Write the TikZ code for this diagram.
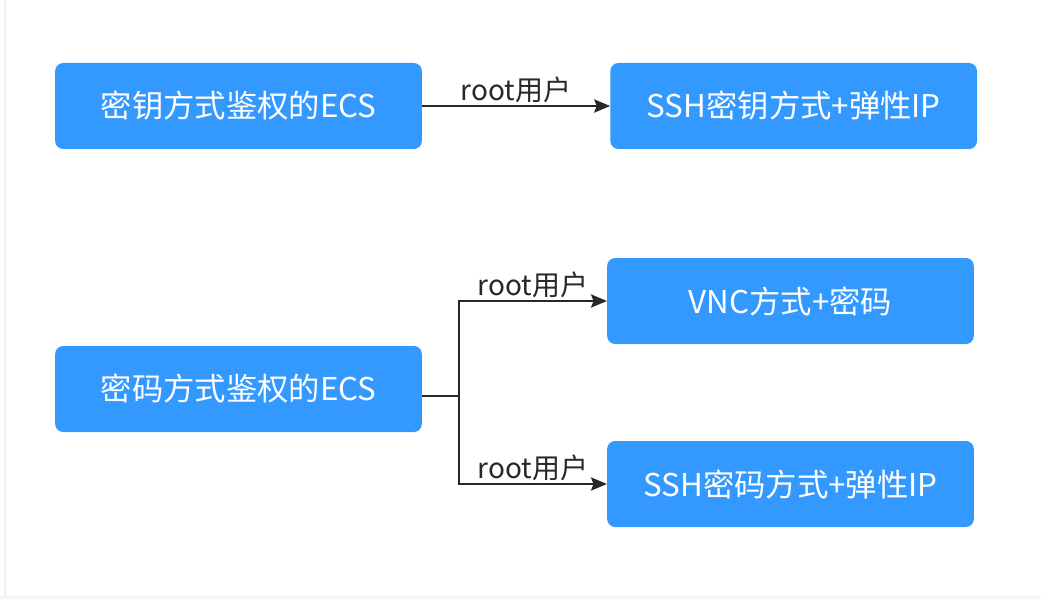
\documentclass[tikz,border=0pt]{standalone}
\usepackage{fontspec}
\setmainfont{Noto Sans CJK SC}
\usetikzlibrary{shapes, arrows.meta, positioning}
\definecolor{boxblue}{RGB}{51,153,255}
\definecolor{linegray}{RGB}{40,40,40}

\begin{document}
\begin{tikzpicture}[x=0.75pt,y=-0.75pt,
	ecsbox/.style={rectangle, rounded corners=6pt, fill=boxblue, text=white, minimum width=275pt, minimum height=64.5pt, inner sep=0pt, font=\fontsize{23.5}{27}\selectfont},
	link/.style={draw=linegray, line width=1.2pt, -{Stealth[length=12pt, width=10pt, inset=2pt]}},
	lbl/.style={text=linegray, inner sep=2pt, font=\fontsize{21}{25}\selectfont}]
		\useasboundingbox (0,0) rectangle (1041,599);
		\fill[white] (0,0) rectangle (1041,599); % 背景
		\fill[black!4] (0,596) rectangle (1041,599);
		\draw[black!6, line width=0.8pt] (5,0) -- (5,596);
		
		% 密钥方式
		\node[ecsbox] (keyecs) at (238.5,106) {密钥方式鉴权的ECS};
		\node[ecsbox, right=141pt of keyecs] (sshkey) {SSH密钥方式+弹性IP};
		\draw[link] (keyecs) -- node[lbl, above] {root用户} (sshkey);
		
		% 密码方式
		\node[ecsbox] (pwdecs) at (238.5,389) {密码方式鉴权的ECS};
		\node[ecsbox] (vncpwd) at (790.5,301) {VNC方式+密码};
		\node[ecsbox] (sshpwd) at (790.5,484) {SSH密码方式+弹性IP};
		\coordinate (fork) at ([xshift=27.75pt, yshift=-5.25pt]pwdecs.east);
		\draw[linegray, line width=1.2pt] ([yshift=-5.25pt]pwdecs.east) -- (fork);
		\draw[link] (fork) |- node[lbl, above, pos=0.75] {root用户} (vncpwd);
		\draw[link] (fork) |- node[lbl, above, pos=0.75] {root用户} (sshpwd);
	\end{tikzpicture}
\end{document}
